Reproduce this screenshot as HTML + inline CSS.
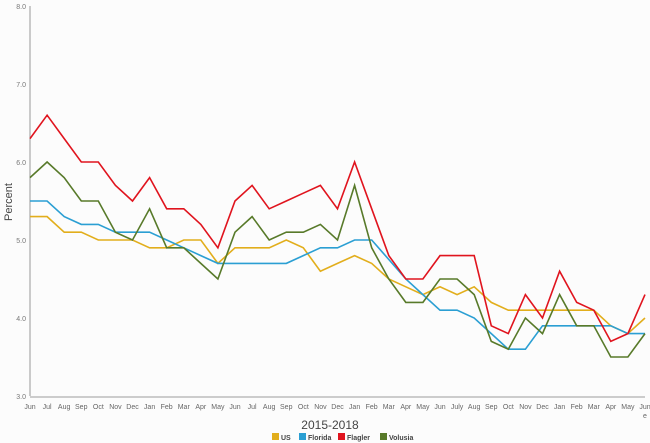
<!DOCTYPE html>
<html><head><meta charset="utf-8"><style>
body{margin:0;background:#fcfcfc;font-family:"Liberation Sans",sans-serif}
svg{display:block}
</style></head><body>
<svg id="chart" width="650" height="443" viewBox="0 0 650 443">
<rect width="650" height="443" fill="#fcfcfc"/>
<g id="axes"></g><g id="series"></g>
<text x="12" y="202" transform="rotate(-90 12 202)" text-anchor="middle" font-size="11" fill="#444">Percent</text>
<text x="330" y="429" text-anchor="middle" font-size="12" fill="#444">2015-2018</text>
<g id="legend"></g>
</svg>
<script>
const months=["Jun","Jul","Aug","Sep","Oct","Nov","Dec","Jan","Feb","Mar","Apr","May","Jun","Jul","Aug","Sep","Oct","Nov","Dec","Jan","Feb","Mar","Apr","May","Jun","July","Aug","Sep","Oct","Nov","Dec","Jan","Feb","Mar","Apr","May","June"];
const yTicks=[3,4,5,6,7,8];
const usVals=[5.3,5.3,5.1,5.1,5.0,5.0,5.0,4.9,4.9,5.0,5.0,4.7,4.9,4.9,4.9,5.0,4.9,4.6,4.7,4.8,4.7,4.5,4.4,4.3,4.4,4.3,4.4,4.2,4.1,4.1,4.1,4.1,4.1,4.1,3.9,3.8,4.0];
const floridaVals=[5.5,5.5,5.3,5.2,5.2,5.1,5.1,5.1,5.0,4.9,4.8,4.7,4.7,4.7,4.7,4.7,4.8,4.9,4.9,5.0,5.0,4.75,4.5,4.3,4.1,4.1,4.0,3.8,3.6,3.6,3.9,3.9,3.9,3.9,3.9,3.8,3.8];
const flaglerVals=[6.3,6.6,6.3,6.0,6.0,5.7,5.5,5.8,5.4,5.4,5.2,4.9,5.5,5.7,5.4,5.5,5.6,5.7,5.4,6.0,5.4,4.8,4.5,4.5,4.8,4.8,4.8,3.9,3.8,4.3,4.0,4.6,4.2,4.1,3.7,3.8,4.3];
const volusiaVals=[5.8,6.0,5.8,5.5,5.5,5.1,5.0,5.4,4.9,4.9,4.7,4.5,5.1,5.3,5.0,5.1,5.1,5.2,5.0,5.7,4.9,4.5,4.2,4.2,4.5,4.5,4.3,3.7,3.6,4.0,3.8,4.3,3.9,3.9,3.5,3.5,3.8];
const seriesNames=["US","Florida","Flagler","Volusia"];
const seriesColors=["#e2ae1c","#2b9fd3","#e0141e","#587a2a"];
const allVals=[usVals,floridaVals,flaglerVals,volusiaVals];
const NS="http://www.w3.org/2000/svg";
const x0=30,x1=645,yTop=6,yBot=396,yMin=3,yMax=8;
const xs=i=>x0+(x1-x0)*i/(months.length-1);
const ys=v=>yBot-(v-yMin)/(yMax-yMin)*(yBot-yTop);
function mk(t,a,p){const e=document.createElementNS(NS,t);for(const k in a)e.setAttribute(k,a[k]);p.appendChild(e);return e;}
const ax=document.getElementById('axes');
let l=mk('line',{x1:x0,y1:yTop,x2:x0,y2:yBot,stroke:'#999','stroke-width':1},ax);


l=mk('line',{x1:x0,y1:yBot+1,x2:x1,y2:yBot+1,stroke:'#ccc','stroke-width':2},ax);


yTicks.forEach(v=>{const t=mk('text',{x:26,y:ys(v)+3,'text-anchor':'end','font-size':7,fill:'#777'},ax);t.textContent=v.toFixed(1);

});
months.forEach((m,i)=>{const t=mk('text',{x:xs(i),y:409,'text-anchor':'middle','font-size':7,fill:'#666'},ax);
if(m==="June"){t.textContent="Jun";const t2=mk('text',{x:xs(i),y:418,'text-anchor':'middle','font-size':7,fill:'#666'},ax);t2.textContent="e";

}else t.textContent=m;

});
const sg=document.getElementById('series');
allVals.forEach((vals,k)=>{const p=mk('polyline',{points:vals.map((v,i)=>xs(i).toFixed(1)+','+ys(v).toFixed(1)).join(' '),fill:'none',stroke:seriesColors[k],'stroke-width':1.6,'stroke-linejoin':'miter'},sg);

});
const lg=document.getElementById('legend');
const lx=[272,299,338,380];
seriesNames.forEach((n,k)=>{const r=mk('rect',{x:lx[k],y:433,width:7,height:7,fill:seriesColors[k]},lg);


const t=mk('text',{x:lx[k]+9,y:440,'font-size':7,'font-weight':'bold',fill:'#444'},lg);t.textContent=n;

});
</script>
</body></html>
